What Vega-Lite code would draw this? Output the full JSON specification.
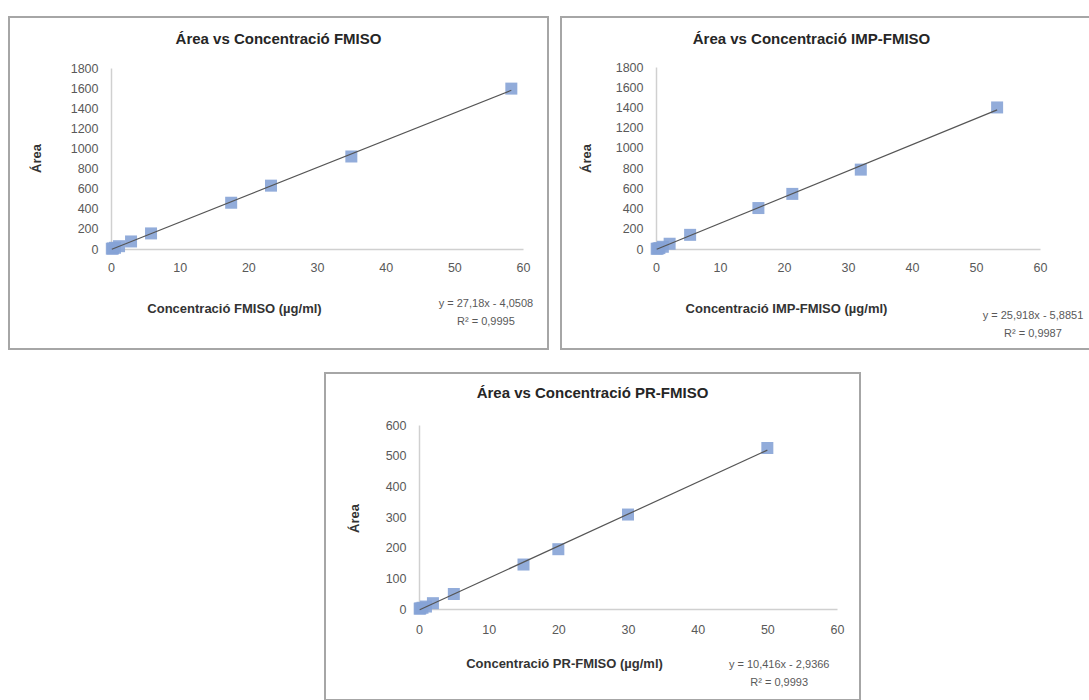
{
  "$schema": "https://vega.github.io/schema/vega-lite/v6.json",
  "background": "white",
  "padding": {"left": 8, "top": 16, "right": 0, "bottom": 0},
  "spacing": 22,
  "datasets": {
    "fmiso": [
      {"conc": 0.12, "area": 3},
      {"conc": 0.29, "area": 5},
      {"conc": 0.58, "area": 12},
      {"conc": 1.17, "area": 28},
      {"conc": 2.92, "area": 75},
      {"conc": 5.83, "area": 155},
      {"conc": 17.5, "area": 460},
      {"conc": 23.3, "area": 630},
      {"conc": 35, "area": 920},
      {"conc": 58.3, "area": 1595}
    ],
    "imp": [
      {"conc": 0.11, "area": 2},
      {"conc": 0.27, "area": 4},
      {"conc": 0.53, "area": 9},
      {"conc": 1.07, "area": 22},
      {"conc": 2.13, "area": 52},
      {"conc": 5.33, "area": 140},
      {"conc": 16, "area": 405},
      {"conc": 21.3, "area": 545},
      {"conc": 32, "area": 785},
      {"conc": 53.3, "area": 1400}
    ],
    "pr": [
      {"conc": 0.1, "area": 1},
      {"conc": 0.2, "area": 2},
      {"conc": 0.5, "area": 4},
      {"conc": 1, "area": 8},
      {"conc": 2, "area": 19},
      {"conc": 5, "area": 49},
      {"conc": 15, "area": 145},
      {"conc": 20, "area": 195},
      {"conc": 30, "area": 308},
      {"conc": 50, "area": 525}
    ],
    "one": [{}]
  },
  "vconcat": [
    {
      "spacing": 11,
      "hconcat": [
        {
          "width": 539, "height": 332,
          "view": {"stroke": "#a6a6a6", "strokeWidth": 2},
          "title": {"text": "Área vs Concentració FMISO", "offset": -37, "baseline": "middle", "anchor": "middle", "fontSize": 15, "fontWeight": "bold", "color": "#262626"},
          "layer": [
            {
              "data": {"name": "fmiso"},
              "mark": {"type": "square", "size": 144, "color": "#86a3d6", "opacity": 0.9},
              "encoding": {
                "x": {"field": "conc", "type": "quantitative",
                  "scale": {"domain": [0, 60], "range": [102, 514], "nice": false, "zero": false},
                  "axis": {"title": "Concentració FMISO (µg/ml)", "offset": -100, "values": [0, 10, 20, 30, 40, 50, 60], "labelPadding": 12, "titleX": 225, "titleY": 59}},
                "y": {"field": "area", "type": "quantitative",
                  "scale": {"domain": [0, 1800], "range": [232, 51], "nice": false, "zero": false},
                  "axis": {"title": "Área", "offset": -102, "values": [0, 200, 400, 600, 800, 1000, 1200, 1400, 1600, 1800], "titleX": -75, "titleY": 141, "labelOverlap": false}}
              }
            },
            {
              "data": {"name": "fmiso"},
              "transform": [{"regression": "area", "on": "conc"}],
              "mark": {"type": "line", "color": "#555555", "strokeWidth": 1.2},
              "encoding": {
                "x": {"field": "conc", "type": "quantitative",
                  "axis": {"title": "Concentració FMISO (µg/ml)", "offset": -100, "values": [0, 10, 20, 30, 40, 50, 60], "labelPadding": 12, "titleX": 225, "titleY": 59}},
                "y": {"field": "area", "type": "quantitative",
                  "axis": {"title": "Área", "offset": -102, "values": [0, 200, 400, 600, 800, 1000, 1200, 1400, 1600, 1800], "titleX": -75, "titleY": 141, "labelOverlap": false}}
              }
            },
            {
              "data": {"name": "one"},
              "mark": {"type": "text", "text": ["y = 27,18x - 4,0508", "R² = 0,9995"], "align": "center", "baseline": "middle", "fontSize": 11, "lineHeight": 18, "color": "#595959"},
              "encoding": {
                "x": {"datum": 54.6, "type": "quantitative",
                  "axis": {"title": "Concentració FMISO (µg/ml)", "offset": -100, "values": [0, 10, 20, 30, 40, 50, 60], "labelPadding": 12, "titleX": 225, "titleY": 59}},
                "y": {"datum": -547, "type": "quantitative",
                  "axis": {"title": "Área", "offset": -102, "values": [0, 200, 400, 600, 800, 1000, 1200, 1400, 1600, 1800], "titleX": -75, "titleY": 141, "labelOverlap": false}}
              }
            }
          ]
        },
        {
          "width": 531, "height": 332,
          "view": {"stroke": "#a6a6a6", "strokeWidth": 2},
          "title": {"text": "Área vs Concentració IMP-FMISO", "offset": -37, "dx": -15, "baseline": "middle", "anchor": "middle", "fontSize": 15, "fontWeight": "bold", "color": "#262626"},
          "layer": [
            {
              "data": {"name": "imp"},
              "mark": {"type": "square", "size": 144, "color": "#86a3d6", "opacity": 0.9},
              "encoding": {
                "x": {"field": "conc", "type": "quantitative",
                  "scale": {"domain": [0, 60], "range": [95, 479], "nice": false, "zero": false},
                  "axis": {"title": "Concentració IMP-FMISO (µg/ml)", "offset": -100, "values": [0, 10, 20, 30, 40, 50, 60], "labelPadding": 12, "titleX": 225, "titleY": 59}},
                "y": {"field": "area", "type": "quantitative",
                  "scale": {"domain": [0, 1800], "range": [232, 50], "nice": false, "zero": false},
                  "axis": {"title": "Área", "offset": -95, "values": [0, 200, 400, 600, 800, 1000, 1200, 1400, 1600, 1800], "titleX": -70, "titleY": 141, "labelOverlap": false}}
              }
            },
            {
              "data": {"name": "imp"},
              "transform": [{"regression": "area", "on": "conc"}],
              "mark": {"type": "line", "color": "#555555", "strokeWidth": 1.2},
              "encoding": {
                "x": {"field": "conc", "type": "quantitative",
                  "axis": {"title": "Concentració IMP-FMISO (µg/ml)", "offset": -100, "values": [0, 10, 20, 30, 40, 50, 60], "labelPadding": 12, "titleX": 225, "titleY": 59}},
                "y": {"field": "area", "type": "quantitative",
                  "axis": {"title": "Área", "offset": -95, "values": [0, 200, 400, 600, 800, 1000, 1200, 1400, 1600, 1800], "titleX": -70, "titleY": 141, "labelOverlap": false}}
              }
            },
            {
              "data": {"name": "one"},
              "mark": {"type": "text", "text": ["y = 25,918x - 5,8851", "R² = 0,9987"], "align": "center", "baseline": "middle", "fontSize": 11, "lineHeight": 18, "color": "#595959"},
              "encoding": {
                "x": {"datum": 58.9, "type": "quantitative",
                  "axis": {"title": "Concentració IMP-FMISO (µg/ml)", "offset": -100, "values": [0, 10, 20, 30, 40, 50, 60], "labelPadding": 12, "titleX": 225, "titleY": 59}},
                "y": {"datum": -663, "type": "quantitative",
                  "axis": {"title": "Área", "offset": -95, "values": [0, 200, 400, 600, 800, 1000, 1200, 1400, 1600, 1800], "titleX": -70, "titleY": 141, "labelOverlap": false}}
              }
            }
          ]
        }
      ]
    },
    {
      "spacing": 11,
      "hconcat": [
        {
          "width": 304, "height": 10,
          "view": {"stroke": null},
          "data": {"values": []},
          "mark": "point"
        },
        {
          "width": 535, "height": 327,
          "view": {"stroke": "#a6a6a6", "strokeWidth": 2},
          "title": {"text": "Área vs Concentració PR-FMISO", "offset": -35, "baseline": "middle", "anchor": "middle", "fontSize": 15, "fontWeight": "bold", "color": "#262626"},
          "layer": [
            {
              "data": {"name": "pr"},
              "mark": {"type": "square", "size": 144, "color": "#86a3d6", "opacity": 0.9},
              "encoding": {
                "x": {"field": "conc", "type": "quantitative",
                  "scale": {"domain": [0, 60], "range": [94, 512], "nice": false, "zero": false},
                  "axis": {"title": "Concentració PR-FMISO (µg/ml)", "offset": -91, "values": [0, 10, 20, 30, 40, 50, 60], "labelPadding": 14, "titleX": 239, "titleY": 54}},
                "y": {"field": "area", "type": "quantitative",
                  "scale": {"domain": [0, 600], "range": [236, 52], "nice": false, "zero": false},
                  "axis": {"title": "Área", "offset": -94, "values": [0, 100, 200, 300, 400, 500, 600], "titleX": -65, "titleY": 145}}
              }
            },
            {
              "data": {"name": "pr"},
              "transform": [{"regression": "area", "on": "conc"}],
              "mark": {"type": "line", "color": "#555555", "strokeWidth": 1.2},
              "encoding": {"x": {"field": "conc", "type": "quantitative"}, "y": {"field": "area", "type": "quantitative"}}
            },
            {
              "data": {"name": "one"},
              "mark": {"type": "text", "text": ["y = 10,416x - 2,9366", "R² = 0,9993"], "align": "center", "baseline": "middle", "fontSize": 11, "lineHeight": 18, "color": "#595959"},
              "encoding": {"x": {"datum": 51.7}, "y": {"datum": -182}}
            }
          ]
        }
      ]
    }
  ],
  "config": {
    "font": "Liberation Sans",
    "axis": {
      "labelFont": "Liberation Sans", "labelFontSize": 12.5, "labelColor": "#595959",
      "titleFont": "Liberation Sans", "titleFontSize": 13, "titleFontWeight": "bold", "titleColor": "#333333",
      "domainColor": "#d0d0d0", "domainWidth": 1.5, "grid": false, "ticks": false, "format": "d",
      "labelFlush": false, "titleBaseline": "middle", "titleAlign": "center"
    },
    "axisY": {"labelPadding": 13, "titleAngle": -90, "labelOverlap": false},
    "title": {"font": "Liberation Sans"},
    "text": {"font": "Liberation Sans"}
  }
}
